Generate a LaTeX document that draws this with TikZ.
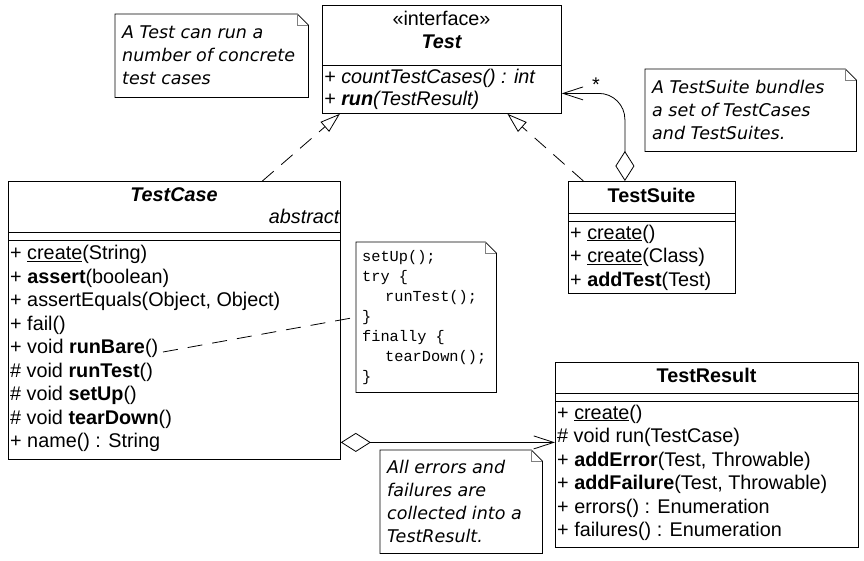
\documentclass[tikz,border=0pt]{standalone}
\usepackage{fontspec}
\setmainfont{Liberation Sans}
\setmonofont{Liberation Mono}
\newfontfamily\notefont{DejaVu Sans}
\usetikzlibrary{arrows.meta}

\newcommand\umlsize{\fontsize{19.8}{23.5}\selectfont}
% note outline with the folded corner
\newcommand\foldnote[1]{%
  \draw[line width=0.8pt] (#1.north west) -- ([xshift=-11pt]#1.north east)
    -- ([yshift=-11pt]#1.north east) -- (#1.south east) -- (#1.south west) -- cycle;
  \draw[gray, line width=0.6pt] ([xshift=-11pt]#1.north east) |- ([yshift=-11pt]#1.north east);}

\tikzset{
  classbox/.style={draw, line width=0.8pt, anchor=north west, inner sep=0pt},
  title/.style={inner sep=0pt, font=\umlsize\bfseries},
  ops/.style={inner sep=0pt, anchor=north west, align=left, font=\umlsize},
  notebox/.style={anchor=north west, inner sep=0pt},
  notetext/.style={anchor=west, inner sep=0pt, align=left,
    font=\notefont\itshape\fontsize{17.5}{23}\selectfont},
  codetext/.style={notetext, font=\ttfamily\fontsize{15.3}{20}\selectfont},
  realize/.style={line width=0.8pt, dash pattern=on 15pt off 10pt,
    -{Triangle[open, length=20pt, width=13pt]}},
  aggregate/.style={line width=0.8pt,
    {Diamond[open, length=30pt, width=19pt]}-{Straight Barb[length=20pt, width=13pt]}},
  notelink/.style={line width=0.8pt, dash pattern=on 15pt off 10pt},
}

\begin{document}
\begin{tikzpicture}[x=1pt, y=-1pt]
  \useasboundingbox (0,0) rectangle (864,560);

  % interface Test
  \node[classbox, minimum width=239pt, minimum height=108pt] (test) at (322,5) {};
  \draw[line width=0.8pt] ([yshift=-60pt]test.north west) -- ([yshift=-60pt]test.north east);
  \node[inner sep=0pt, font=\umlsize] (teststereo) at (441.5,18) {«interface»};
  \node[title, font=\umlsize\bfseries\itshape] (testname) at (441.5,42) {Test};
  \node[ops, font=\fontsize{19.8}{22}\selectfont\itshape] (testops) at (324,68.5)
    {+ countTestCases() : int\\+ \textbf{run}(TestResult)};

  % TestCase
  \node[classbox, minimum width=332pt, minimum height=278pt] (testcase) at (8,181) {};
  \draw[line width=0.8pt] ([yshift=-51pt]testcase.north west) -- ([yshift=-51pt]testcase.north east);
  \draw[line width=0.8pt] ([yshift=-59pt]testcase.north west) -- ([yshift=-59pt]testcase.north east);
  \node[title, font=\umlsize\bfseries\itshape] (tcname) at (174,195) {TestCase};
  \node[inner sep=0pt, anchor=east, font=\umlsize\itshape] (tcabstract) at (339.5,216) {abstract};
  \node[ops] (tcops) at (10,245) {+ \underline{create}(String)\\
    + \textbf{assert}(boolean)\\
    + assertEquals(Object, Object)\\
    + fail()\\
    + void \textbf{runBare}()\\
    \# void \textbf{runTest}()\\
    \# void \textbf{setUp}()\\
    \# void \textbf{tearDown}()\\
    + name() : String};

  % TestSuite
  \node[classbox, minimum width=167pt, minimum height=112pt] (suite) at (568,181) {};
  \draw[line width=0.8pt] ([yshift=-32pt]suite.north west) -- ([yshift=-32pt]suite.north east);
  \draw[line width=0.8pt] ([yshift=-40pt]suite.north west) -- ([yshift=-40pt]suite.north east);
  \node[title] (suitename) at (651.5,195) {TestSuite};
  \node[ops] (suiteops) at (570,224.5) {+ \underline{create}()\\
    + \underline{create}(Class)\\
    + \textbf{addTest}(Test)};

  % TestResult
  \node[classbox, minimum width=303pt, minimum height=185pt] (result) at (555,362) {};
  \draw[line width=0.8pt] ([yshift=-31pt]result.north west) -- ([yshift=-31pt]result.north east);
  \draw[line width=0.8pt] ([yshift=-39pt]result.north west) -- ([yshift=-39pt]result.north east);
  \node[title] (resultname) at (706.5,375) {TestResult};
  \node[ops] (resultops) at (557,404.5) {+ \underline{create}()\\
    \# void run(TestCase)\\
    + \textbf{addError}(Test, Throwable)\\
    + \textbf{addFailure}(Test, Throwable)\\
    + errors() : Enumeration\\
    + failures() : Enumeration};

  % notes
  \node[notebox, minimum width=193pt, minimum height=83pt] (notetest) at (115,14) {};
  \foldnote{notetest}
  \node[notetext] (notetesttext) at ([xshift=7pt]notetest.west)
    {A Test can run a\\number of concrete\\test cases};
  \node[notebox, minimum width=211pt, minimum height=82pt] (notesuite) at (645,69) {};
  \foldnote{notesuite}
  \node[notetext] (notesuitetext) at ([xshift=7pt]notesuite.west)
    {A TestSuite bundles\\a set of TestCases\\and TestSuites.};
  \node[notebox, minimum width=162pt, minimum height=103pt] (noteresult) at (380,450) {};
  \foldnote{noteresult}
  \node[notetext] (noteresulttext) at ([xshift=7pt]noteresult.west)
    {All errors and\\failures are\\collected into a\\TestResult.};
  \node[notebox, minimum width=140pt, minimum height=150pt] (codenote) at (356,242) {};
  \foldnote{codenote}
  \node[codetext] (codenotetext) at ([xshift=6pt]codenote.west)
    {setUp();\\try \{\\\hspace*{23pt}runTest();\\\}\\finally \{\\\hspace*{23pt}tearDown();\\\}};

  % relations
  \draw[realize] ([xshift=88pt]testcase.north) -- ([xshift=-102pt]test.south);
  \draw[realize] ([xshift=-68.5pt]suite.north) -- ([xshift=65.5pt]test.south);
  \draw[aggregate, rounded corners=26pt] ([xshift=-27pt]suite.north) |- ([yshift=-34pt]test.east);
  \node[inner sep=0pt, font=\umlsize] (mult) at (596,85) {*};
  \draw[aggregate] ([yshift=-122pt]testcase.east) coordinate (aggstart) -- (aggstart -| result.west);
  \coordinate (barend) at (163,352);
  \draw[notelink] (barend) -- (codenote.west);
\end{tikzpicture}
\end{document}
